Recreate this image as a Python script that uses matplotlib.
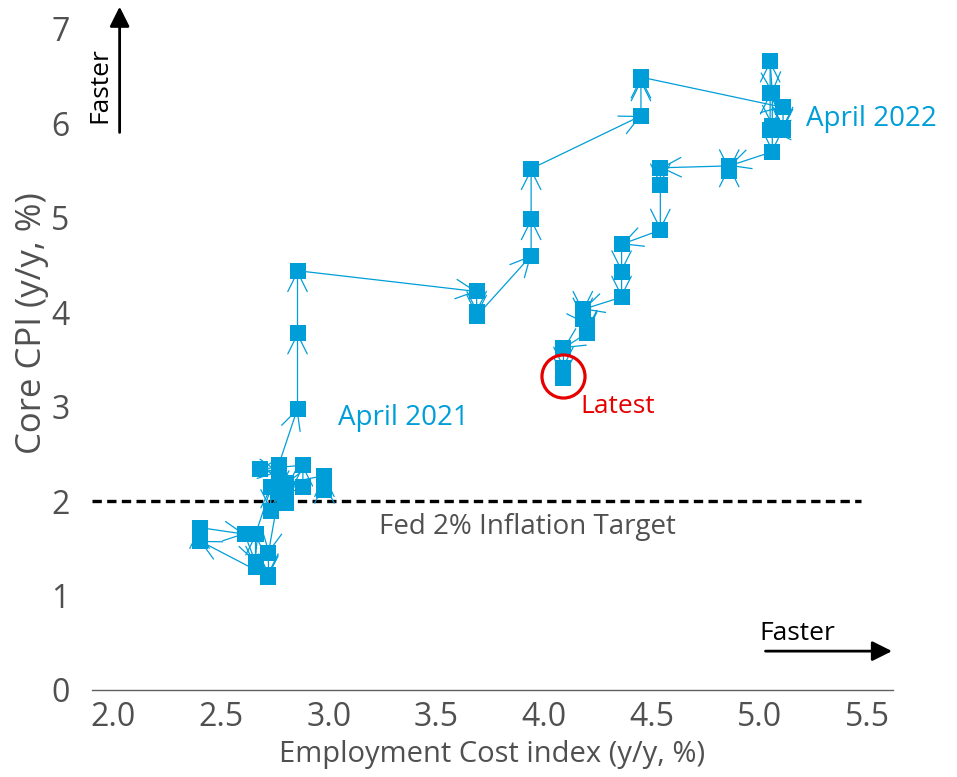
import numpy as np
import matplotlib.pyplot as plt
from matplotlib.patches import FancyArrowPatch

plt.rcParams['font.family'] = ['Open Sans', 'DejaVu Sans']

# quarterly ECI (y/y, %), repeated for the three months of each quarter
eci_q = [2.98, 2.80, 2.73, 2.88, 2.68, 2.77, 2.72, 2.40, 2.61, 2.66,
         2.855, 3.687, 3.94, 4.45, 5.11, 5.05, 5.06, 4.86, 4.54, 4.36,
         4.18, 4.20, 4.09]

# monthly core CPI (y/y, %), Oct 2018 .. Jun 2024
core_cpi = [2.12, 2.20, 2.27,
            2.19, 2.10, 1.98,
            2.15, 1.90, 2.15,
            2.15, 2.38, 2.38,
            2.34, 2.34, 2.34,
            2.31, 2.38, 2.10,
            1.45, 1.22, 1.20,
            1.58, 1.72, 1.72,
            1.65, 1.65, 1.65,
            1.35, 1.30, 1.65,
            2.98, 3.78, 4.44,
            4.22, 4.00, 3.96,
            4.60, 4.99, 5.52,
            6.08, 6.46, 6.49,
            6.17, 5.95, 5.93,
            5.93, 6.32, 6.66,
            6.32, 5.97, 5.70,
            5.55, 5.50, 5.55,
            5.53, 5.35, 4.87,
            4.72, 4.43, 4.16,
            4.03, 4.00, 3.93,
            3.87, 3.80, 3.78,
            3.62, 3.41, 3.30]

eci = np.repeat(eci_q, 3)
cpi = np.array(core_cpi)

blue = '#009ED8'
grey = '#505050'
red = '#E60000'

fig = plt.figure(figsize=(9.57, 7.77), dpi=100)
ax = fig.add_axes([0.096, 0.112, 0.837, 0.875])

# connecting arrows (under the markers)
for i in range(1, len(eci)):
    ax.annotate('', xy=(eci[i], cpi[i]), xytext=(eci[i-1], cpi[i-1]),
                arrowprops=dict(arrowstyle='->,head_length=1.0,head_width=0.5',
                                color=blue, lw=0.9, mutation_scale=14,
                                shrinkA=0, shrinkB=0),
                zorder=2)

ax.plot(eci, cpi, linestyle='none', marker='s', ms=11, color=blue,
        markeredgewidth=0, zorder=3)

# Fed target
ax.plot([1.9, 5.47], [2, 2], linestyle=(0, (2.8, 1.6)), color='black', lw=2.4, zorder=1)
ax.text(3.924, 1.73, 'Fed 2% Inflation Target', ha='center', va='center',
        fontsize=20, color=grey)

# labels
ax.text(3.045, 2.88, 'April 2021', ha='left', va='center', fontsize=20, color=blue)
ax.text(5.215, 6.05, 'April 2022', ha='left', va='center', fontsize=20, color=blue)
ax.text(4.17, 3.0, 'Latest', ha='left', va='center', fontsize=19, color=red)

# circle round the latest point
ax.plot([eci[-1]], [3.33], linestyle='none', marker='o', ms=31,
        markerfacecolor='none', markeredgecolor=red, markeredgewidth=2.3, zorder=4)

ax.set_xlim(1.9, 5.62)
ax.set_ylim(0, 7.2)
ax.set_xticks(np.arange(2.0, 5.51, 0.5))
ax.set_xticklabels(['2.0', '2.5', '3.0', '3.5', '4.0', '4.5', '5.0', '5.5'])
ax.set_yticks(range(0, 8))

for s in ['top', 'right', 'left']:
    ax.spines[s].set_visible(False)
ax.spines['bottom'].set_color('#606060')
ax.spines['bottom'].set_linewidth(1.0)
ax.tick_params(axis='both', length=0, labelsize=23, labelcolor=grey)
ax.tick_params(axis='x', pad=8)
ax.tick_params(axis='y', pad=16)

ax.set_xlabel('Employment Cost index (y/y, %)', fontsize=21, color=grey, labelpad=4)
ax.set_ylabel('Core CPI (y/y, %)', fontsize=25, color=grey)
ax.yaxis.set_label_coords(-0.053, 0.54)

# "Faster" arrows
fig.patches.append(FancyArrowPatch(
    (0.125, 0.826), (0.125, 0.995), transform=fig.transFigure,
    arrowstyle='-|>,head_length=0.6,head_width=0.3', mutation_scale=20,
    color='black', lw=2))
fig.text(0.104, 0.89, 'Faster', rotation=90, ha='center', va='center', fontsize=19)
fig.patches.append(FancyArrowPatch(
    (0.797, 0.162), (0.935, 0.162), transform=fig.transFigure,
    arrowstyle='-|>,head_length=0.6,head_width=0.3', mutation_scale=20,
    color='black', lw=2))
fig.text(0.794, 0.185, 'Faster', ha='left', va='center', fontsize=19)

fig.savefig('out.png', dpi=100)
